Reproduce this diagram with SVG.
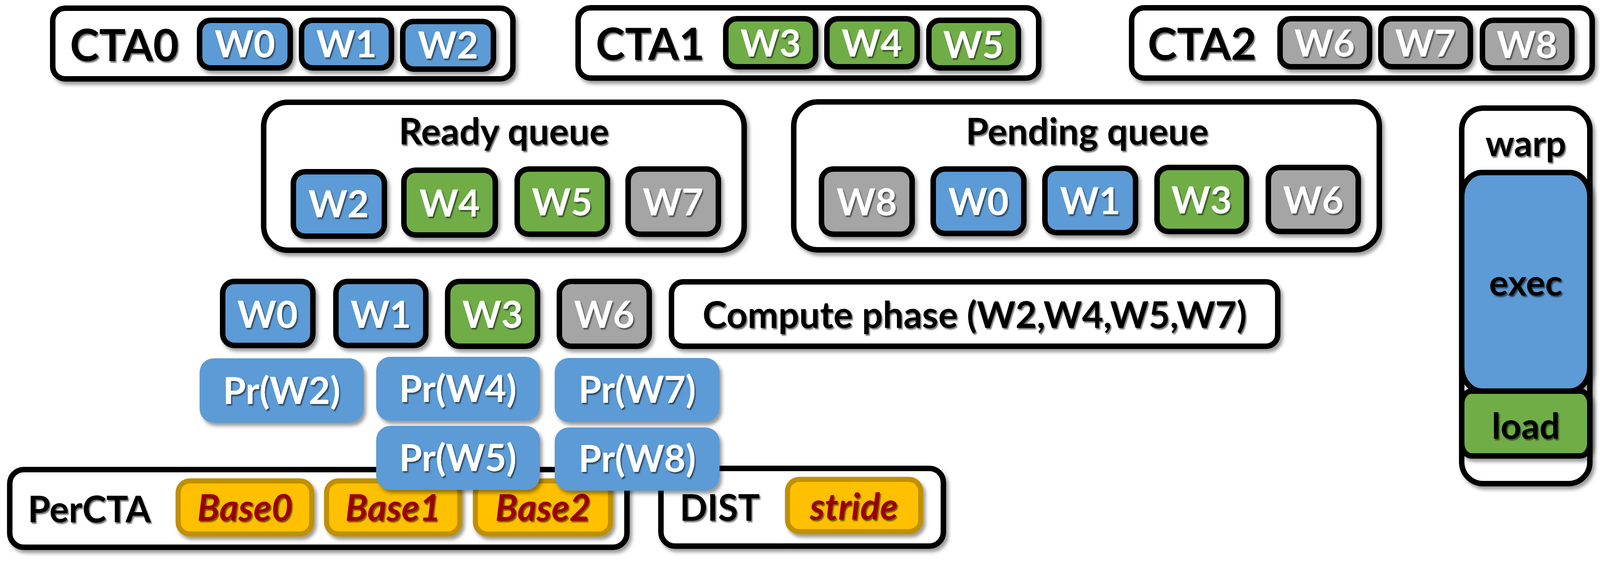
<svg xmlns="http://www.w3.org/2000/svg" width="4115" height="1450" viewBox="0 0 4115 1450">
<defs>
<filter id="bs" x="-10%" y="-10%" width="125%" height="130%"><feDropShadow dx="6" dy="8" stdDeviation="5" flood-color="#000" flood-opacity="0.4"/></filter>
<filter id="ts" x="-5%" y="-10%" width="115%" height="130%"><feDropShadow dx="3" dy="4" stdDeviation="1.8" flood-color="#000" flood-opacity="0.55"/></filter>
</defs>
<style>
.frame{fill:#fff;stroke:#000;stroke-width:14;filter:url(#bs)}
.wb{stroke:#000;stroke-width:14;filter:url(#bs)}
.blue{fill:#5B9BD5}
.green{fill:#70AD47}
.gray{fill:#A5A5A5}
.pr{fill:#5B9BD5;filter:url(#bs)}
.gold{fill:#FFC000;stroke:#BF9000;stroke-width:13;filter:url(#bs)}
text{font-family:Lato,"Open Sans","Liberation Sans",sans-serif;font-weight:700;filter:url(#ts)}
.wt{fill:#fff;font-size:95px;text-anchor:middle}
.bt{fill:#000;font-size:94px}
.ct{fill:#000;font-size:113px}
.mid{text-anchor:middle}
.it{fill:#990000;font-style:italic;font-size:94px;text-anchor:middle}
.sm{font-size:92px}
</style>
<rect width="4115" height="1450" fill="#fff"/>

<g id="cta0">
<rect class="frame" x="135" y="21" width="1178" height="181" rx="32"/>
<text class="ct" x="179" y="156">CTA0</text>
<rect class="wb blue" x="511" y="52" width="232" height="122" rx="28"/>
<text class="wt" x="627" y="147">W0</text>
<rect class="wb blue" x="772" y="52" width="230" height="122" rx="28"/>
<text class="wt" x="887" y="147">W1</text>
<rect class="wb blue" x="1031" y="55" width="232" height="122" rx="28"/>
<text class="wt" x="1147" y="150">W2</text>
</g>

<g id="cta1">
<rect class="frame" x="1480" y="20" width="1179" height="180" rx="32"/>
<text class="ct" x="1525" y="153">CTA1</text>
<rect class="wb green" x="1858" y="48" width="230" height="123" rx="28"/>
<text class="wt" x="1973" y="145">W3</text>
<rect class="wb green" x="2117" y="48" width="231" height="123" rx="28"/>
<text class="wt" x="2232" y="145">W4</text>
<rect class="wb green" x="2378" y="52" width="229" height="122" rx="28"/>
<text class="wt" x="2492" y="149">W5</text>
</g>

<g id="cta2">
<rect class="frame" x="2897" y="20" width="1179" height="180" rx="32"/>
<text class="ct" x="2938" y="153">CTA2</text>
<rect class="wb gray" x="3277" y="48" width="229" height="123" rx="28"/>
<text class="wt" x="3391" y="145">W6</text>
<rect class="wb gray" x="3535" y="48" width="229" height="123" rx="28"/>
<text class="wt" x="3649" y="145">W7</text>
<rect class="wb gray" x="3795" y="52" width="229" height="122" rx="28"/>
<text class="wt" x="3909" y="149">W8</text>
</g>

<g id="ready-queue">
<rect class="frame" x="675" y="262" width="1230" height="379" rx="62"/>
<text class="bt mid" x="1290" y="370">Ready queue</text>
<rect class="wb blue" x="751" y="440" width="233" height="165" rx="30"/>
<text class="wt" x="867" y="557">W2</text>
<rect class="wb green" x="1034" y="436" width="234" height="166" rx="30"/>
<text class="wt" x="1151" y="555">W4</text>
<rect class="wb green" x="1324" y="433" width="231" height="167" rx="30"/>
<text class="wt" x="1439" y="552">W5</text>
<rect class="wb gray" x="1608" y="433" width="231" height="167" rx="30"/>
<text class="wt" x="1723" y="552">W7</text>
</g>

<g id="pending-queue">
<rect class="frame" x="2032" y="261" width="1499" height="379" rx="62"/>
<text class="bt mid" x="2783" y="370">Pending queue</text>
<rect class="wb gray" x="2103" y="433" width="232" height="167" rx="30"/>
<text class="wt" x="2219" y="552">W8</text>
<rect class="wb blue" x="2389" y="433" width="232" height="165" rx="30"/>
<text class="wt" x="2505" y="551">W0</text>
<rect class="wb blue" x="2675" y="431" width="232" height="165" rx="30"/>
<text class="wt" x="2791" y="549">W1</text>
<rect class="wb green" x="2962" y="429" width="229" height="164" rx="30"/>
<text class="wt" x="3076" y="547">W3</text>
<rect class="wb gray" x="3247" y="429" width="230" height="164" rx="30"/>
<text class="wt" x="3362" y="547">W6</text>
</g>

<g id="warp">
<rect class="frame" x="3742" y="277" width="328" height="962" rx="55"/>
<text class="bt mid sm" x="3906" y="400">warp</text>
<rect class="wb blue" x="3742" y="442" width="328" height="560" rx="52" ry="62"/>
<text class="bt mid sm" x="3906" y="757">exec</text>
<rect class="wb green" x="3742" y="1002" width="328" height="166" rx="25" ry="32"/>
<text class="bt mid sm" x="3906" y="1124">load</text>
</g>

<g id="pending-row">
<rect class="wb blue" x="570" y="721" width="231" height="164" rx="30"/>
<text class="wt" x="685" y="840">W0</text>
<rect class="wb blue" x="860" y="721" width="230" height="164" rx="30"/>
<text class="wt" x="975" y="840">W1</text>
<rect class="wb green" x="1146" y="721" width="230" height="166" rx="30"/>
<text class="wt" x="1261" y="840">W3</text>
<rect class="wb gray" x="1432" y="721" width="230" height="166" rx="30"/>
<text class="wt" x="1547" y="840">W6</text>
</g>

<g id="compute-phase">
<rect class="frame" x="1719" y="722" width="1552" height="165" rx="30"/>
<text class="bt mid" x="2495" y="840">Compute phase (W2,W4,W5,W7)</text>
</g>

<g id="percta">
<rect class="frame" x="25" y="1203" width="1580" height="199" rx="36"/>
<text class="bt" x="71" y="1338" style="font-size:93px">PerCTA</text>
<rect class="gold" x="456" y="1232" width="342" height="136" rx="30"/>
<text class="it" x="627" y="1334">Base0</text>
<rect class="gold" x="836" y="1232" width="341" height="136" rx="30"/>
<text class="it" x="1006" y="1334">Base1</text>
<rect class="gold" x="1217" y="1232" width="346" height="136" rx="30"/>
<text class="it" x="1390" y="1334">Base2</text>
</g>

<g id="dist">
<rect class="frame" x="1692" y="1200" width="723" height="199" rx="36"/>
<text class="bt" x="1740" y="1334" style="font-size:93px">DIST</text>
<rect class="gold" x="2016" y="1228" width="341" height="134" rx="30"/>
<text class="it" x="2186" y="1331">stride</text>
</g>

<g id="prefetch">
<rect class="pr" x="511" y="918" width="420" height="165" rx="36"/>
<text class="wt" x="721" y="1035">Pr(W2)</text>
<rect class="pr" x="963" y="914" width="419" height="164" rx="36"/>
<text class="wt" x="1172" y="1030">Pr(W4)</text>
<rect class="pr" x="963" y="1091" width="419" height="164" rx="36"/>
<text class="wt" x="1172" y="1207">Pr(W5)</text>
<rect class="pr" x="1420" y="917" width="422" height="164" rx="36"/>
<text class="wt" x="1631" y="1032">Pr(W7)</text>
<rect class="pr" x="1420" y="1095" width="422" height="162" rx="36"/>
<text class="wt" x="1631" y="1209">Pr(W8)</text>
</g>

<g id="connectors"/>
</svg>
